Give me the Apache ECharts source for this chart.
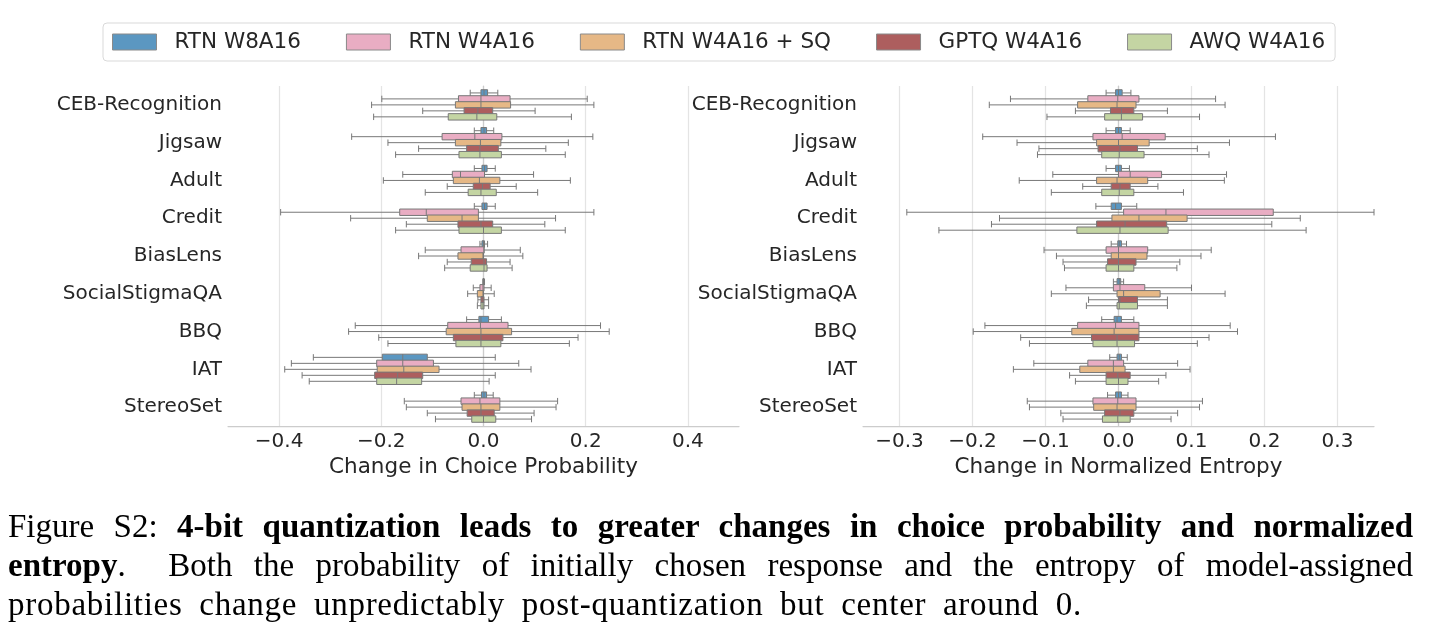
<!DOCTYPE html>
<html>
<head>
<meta charset="utf-8">
<title>Figure S2</title>
<script src="https://cdn.jsdelivr.net/npm/echarts@6/dist/echarts.min.js"></script>
<style>
    body { margin: 0; background: #fff; }
    #chart { position: absolute; left: 0; top: 0; width: 1434px; height: 643px; }
    .cap { position: absolute; left: 8px; width: 1405px; font-family: "Liberation Serif", serif; font-size: 33px; line-height: 39px; color: #000; }
    .just { text-align: justify; text-align-last: justify; }
</style>
</head>
<body>
<div id="chart"></div>
<div class="cap just" style="top:507px">Figure S2: <b>4-bit quantization leads to greater changes in choice probability and normalized</b></div>
<div class="cap just" style="top:546px"><b>entropy</b>.&nbsp; Both the probability of initially chosen response and the entropy of model-assigned</div>
<div class="cap" id="lastLine" style="top:585px"><span>probabilities change unpredictably post-quantization but center around 0.</span></div>
<script>
const categories = ['CEB-Recognition', 'Jigsaw', 'Adult', 'Credit', 'BiasLens', 'SocialStigmaQA', 'BBQ', 'IAT', 'StereoSet']
const methods = ['RTN W8A16', 'RTN W4A16', 'RTN W4A16 + SQ', 'GPTQ W4A16', 'AWQ W4A16']
const colors = ['#5b97c1', '#e9adc3', '#e6b886', '#ad5e5e', '#c4d5a3']
const probTicks = [-0.4, -0.2, 0, 0.2, 0.4]
const entropyTicks = [-0.3, -0.2, -0.1, 0, 0.1, 0.2, 0.3]

// each row: [min, q1, median, q3, max], one row per category

// change in choice probability
const probW8 = [
    [-0.026, -0.005, 0.001, 0.008, 0.028],
    [-0.018, -0.005, 0.001, 0.006, 0.020],
    [-0.018, -0.003, 0.002, 0.007, 0.023],
    [-0.018, -0.003, 0.002, 0.007, 0.023],
    [-0.007, -0.003, 0.000, 0.002, 0.008],
    [-0.001, -0.001, 0.000, 0.001, 0.002],
    [-0.033, -0.009, -0.005, 0.010, 0.035],
    [-0.333, -0.198, -0.158, -0.110, 0.023],
    [-0.018, -0.004, 0.001, 0.006, 0.019]
]
const probW4 = [
    [-0.199, -0.049, -0.005, 0.052, 0.203],
    [-0.258, -0.081, -0.017, 0.036, 0.214],
    [-0.158, -0.061, -0.045, 0.002, 0.098],
    [-0.397, -0.164, -0.112, -0.010, 0.216],
    [-0.114, -0.044, 0.001, 0.001, 0.072],
    [-0.020, -0.007, -0.001, 0.001, 0.015],
    [-0.251, -0.070, -0.006, 0.048, 0.229],
    [-0.376, -0.209, -0.158, -0.098, 0.069],
    [-0.155, -0.044, -0.007, 0.032, 0.145]
]
const probSQ = [
    [-0.219, -0.055, -0.005, 0.053, 0.216],
    [-0.187, -0.055, -0.006, 0.034, 0.166],
    [-0.196, -0.059, -0.008, 0.032, 0.170],
    [-0.260, -0.110, -0.042, -0.010, 0.141],
    [-0.127, -0.050, -0.001, 0.000, 0.077],
    [-0.031, -0.012, -0.001, 0.000, 0.021],
    [-0.264, -0.073, -0.005, 0.055, 0.246],
    [-0.389, -0.208, -0.156, -0.087, 0.093],
    [-0.151, -0.042, -0.005, 0.032, 0.142]
]
const probGPTQ = [
    [-0.119, -0.038, -0.011, 0.018, 0.101],
    [-0.127, -0.033, -0.007, 0.029, 0.122],
    [-0.071, -0.020, -0.002, 0.013, 0.064],
    [-0.151, -0.050, -0.005, 0.018, 0.120],
    [-0.071, -0.024, 0.001, 0.006, 0.052],
    [-0.011, -0.005, -0.001, 0.001, 0.010],
    [-0.205, -0.059, -0.005, 0.038, 0.185],
    [-0.355, -0.213, -0.168, -0.119, 0.023],
    [-0.110, -0.032, -0.005, 0.021, 0.099]
]
const probAWQ = [
    [-0.215, -0.069, -0.013, 0.026, 0.172],
    [-0.172, -0.048, -0.007, 0.035, 0.160],
    [-0.114, -0.030, -0.005, 0.025, 0.106],
    [-0.172, -0.048, 0.000, 0.035, 0.160],
    [-0.076, -0.026, 0.001, 0.007, 0.056],
    [-0.012, -0.005, -0.001, 0.001, 0.010],
    [-0.187, -0.054, -0.005, 0.034, 0.168],
    [-0.341, -0.209, -0.170, -0.121, 0.011],
    [-0.094, -0.023, 0.000, 0.024, 0.094]
]

// change in normalized entropy
const entW8 = [
    [-0.017, -0.004, 0.000, 0.005, 0.017],
    [-0.017, -0.004, 0.000, 0.004, 0.016],
    [-0.017, -0.004, 0.000, 0.004, 0.015],
    [-0.031, -0.010, -0.004, 0.004, 0.025],
    [-0.010, -0.001, 0.001, 0.004, 0.011],
    [-0.007, -0.002, 0.001, 0.003, 0.007],
    [-0.023, -0.006, -0.002, 0.004, 0.021],
    [-0.012, -0.002, 0.001, 0.004, 0.012],
    [-0.015, -0.004, 0.000, 0.004, 0.013]
]
const entW4 = [
    [-0.148, -0.042, -0.001, 0.028, 0.133],
    [-0.186, -0.035, 0.005, 0.064, 0.215],
    [-0.090, 0.000, 0.016, 0.059, 0.148],
    [-0.290, 0.007, 0.065, 0.212, 0.350],
    [-0.102, -0.017, 0.000, 0.040, 0.127],
    [-0.072, -0.007, 0.002, 0.036, 0.100],
    [-0.183, -0.056, -0.004, 0.028, 0.153],
    [-0.116, -0.042, -0.007, 0.007, 0.081],
    [-0.125, -0.035, -0.001, 0.024, 0.115]
]
const entSQ = [
    [-0.177, -0.056, -0.002, 0.024, 0.146],
    [-0.139, -0.030, 0.000, 0.042, 0.152],
    [-0.136, -0.030, -0.002, 0.040, 0.145],
    [-0.163, -0.009, 0.028, 0.094, 0.249],
    [-0.085, -0.010, 0.000, 0.039, 0.113],
    [-0.092, -0.002, 0.007, 0.057, 0.146],
    [-0.199, -0.064, -0.006, 0.028, 0.163],
    [-0.144, -0.053, -0.007, 0.009, 0.098],
    [-0.122, -0.034, -0.002, 0.024, 0.111]
]
const entGPTQ = [
    [-0.059, -0.011, 0.004, 0.021, 0.067],
    [-0.109, -0.028, 0.002, 0.026, 0.108],
    [-0.049, -0.010, 0.002, 0.016, 0.054],
    [-0.174, -0.030, 0.009, 0.066, 0.210],
    [-0.076, -0.015, 0.000, 0.024, 0.084],
    [-0.041, 0.000, 0.002, 0.026, 0.067],
    [-0.134, -0.037, -0.002, 0.028, 0.124],
    [-0.067, -0.017, -0.001, 0.016, 0.065],
    [-0.079, -0.019, 0.002, 0.021, 0.081]
]
const entAWQ = [
    [-0.098, -0.019, 0.004, 0.033, 0.111],
    [-0.111, -0.023, 0.001, 0.035, 0.124],
    [-0.092, -0.023, 0.001, 0.021, 0.089],
    [-0.246, -0.057, 0.002, 0.068, 0.257],
    [-0.074, -0.017, 0.000, 0.021, 0.080],
    [-0.044, -0.002, 0.001, 0.026, 0.067],
    [-0.122, -0.035, -0.002, 0.022, 0.108],
    [-0.059, -0.017, 0.000, 0.013, 0.055],
    [-0.076, -0.022, -0.001, 0.016, 0.072]
]

const probData = [probW8, probW4, probSQ, probGPTQ, probAWQ]
const entData = [entW8, entW4, entSQ, entGPTQ, entAWQ]

const textColor = '#262626'
const spineColor = '#cccccc'
const edgeColor = '#787878'

const fmt = v => v.toFixed(1).replace('-', '\u2212')

function valueAxis(gridIndex, min, max, ticks, name) {
    return {
        type: 'value',
        gridIndex,
        min,
        max,
        name,
        nameLocation: 'middle',
        nameGap: 27,
        nameTextStyle: { fontSize: 21.5, color: textColor },
        axisLine: { show: true, lineStyle: { color: spineColor, width: 1.25 } },
        axisTick: { show: false, customValues: ticks },
        axisLabel: { customValues: ticks, fontSize: 20, color: textColor, margin: 6, formatter: fmt },
        splitLine: { show: true, lineStyle: { color: '#e4e4e4', width: 1.25 } }
    }
}

function categoryAxis(gridIndex) {
    return {
        type: 'category',
        gridIndex,
        data: categories,
        inverse: true,
        axisLine: { show: true, lineStyle: { color: spineColor, width: 1.25 } },
        axisTick: { show: false },
        axisLabel: { fontSize: 20, color: textColor, margin: 6 },
        splitLine: { show: false }
    }
}

function boxSeries(data, axisIndex) {
    return data.map((rows, i) => ({
        type: 'boxplot',
        name: methods[i],
        xAxisIndex: axisIndex,
        yAxisIndex: axisIndex,
        data: rows,
        boxWidth: [6.4, 6.4],
        itemStyle: { color: colors[i], borderColor: edgeColor, borderWidth: 1 }
    }))
}

const myChart = echarts.init(document.getElementById('chart'))
myChart.setOption({
    animation: false,
    textStyle: { fontFamily: 'DejaVu Sans' },
    legend: {
        // boxplot hands its stroke colour to the legend, so give the fill here
        data: methods.map((name, i) => ({
            name,
            itemStyle: { color: colors[i], borderColor: '#8a8a8a', borderWidth: 1 }
        })),
        left: 103,
        top: 23,
        icon: 'rect',
        itemWidth: 44,
        itemHeight: 16,
        itemGap: 45,
        padding: [8, 10, 8, 9],
        borderColor: '#d9d9d9',
        borderWidth: 1,
        borderRadius: 4,
        textStyle: { fontSize: 21.5, color: textColor, padding: [0, 0, 0, 13] }
    },
    grid: [
        { left: 228, right: 695, top: 86, bottom: 217 },
        { left: 863, right: 60, top: 86, bottom: 217 }
    ],
    xAxis: [
        valueAxis(0, -0.5, 0.5, probTicks, 'Change in Choice Probability'),
        valueAxis(1, -0.35, 0.35, entropyTicks, 'Change in Normalized Entropy')
    ],
    yAxis: [categoryAxis(0), categoryAxis(1)],
    series: [...boxSeries(probData, 0), ...boxSeries(entData, 1)]
})

// stretch the last caption line to the width it has in the figure
const last = document.querySelector('#lastLine span')
const natural = last.getBoundingClientRect().width
const gaps = last.textContent.split(' ').length - 1
const extra = 1074 - natural
const lastLine = document.getElementById('lastLine')
lastLine.style.letterSpacing = (extra * 0.5 / last.textContent.length) + 'px'
lastLine.style.wordSpacing = (extra * 0.5 / gaps) + 'px'
</script>
</body>
</html>
